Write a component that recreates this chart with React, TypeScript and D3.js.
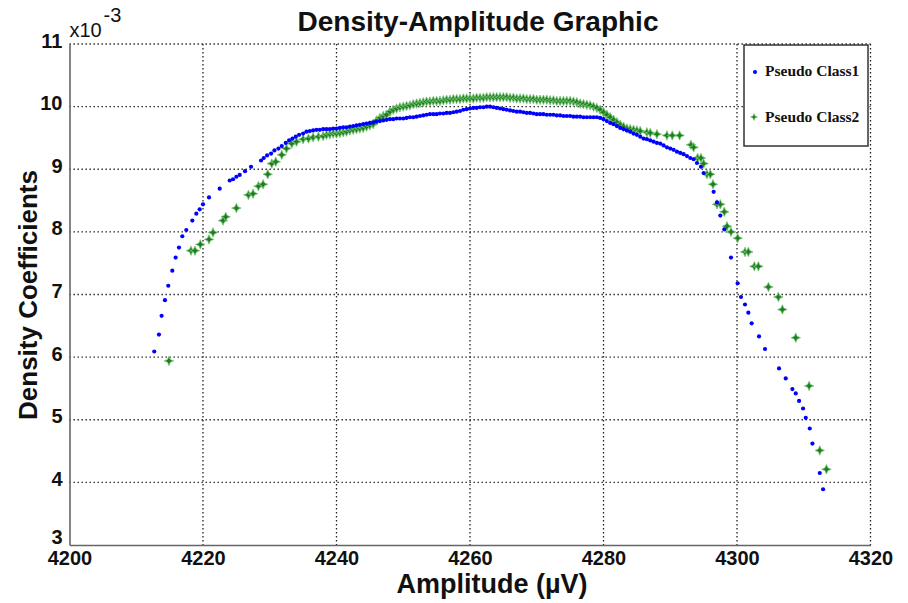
import React, { useEffect, useRef } from 'react';
import * as d3 from 'd3';

// amplitude (µV) and density (x10^-3)
const class1Amplitude = [
  4212.7, 4213.4, 4213.8, 4214.3, 4214.8, 4215.4, 4215.9, 4216.4, 4216.9, 4217.5,
  4218.4, 4219.0, 4219.5, 4220.0, 4220.9, 4222.5, 4224.0, 4224.5, 4225.0, 4225.5,
  4226.3, 4227.2, 4228.7, 4229.1, 4229.6, 4230.2, 4230.7, 4231.3, 4231.8, 4232.4,
  4232.9, 4233.4, 4233.9, 4234.4, 4235.0, 4235.5, 4236.0, 4236.5, 4237.0, 4237.5,
  4238.0, 4238.5, 4239.0, 4239.5, 4240.0, 4240.5, 4241.0, 4241.5, 4242.0, 4242.5,
  4243.0, 4243.5, 4244.0, 4244.5, 4245.0, 4245.5, 4246.0, 4246.5, 4247.0, 4247.5,
  4248.0, 4248.5, 4249.0, 4249.5, 4250.0, 4250.5, 4251.0, 4251.5, 4252.0, 4252.5,
  4253.0, 4253.5, 4254.0, 4254.5, 4255.0, 4255.5, 4256.0, 4256.5, 4257.0, 4257.5,
  4258.0, 4258.5, 4259.0, 4259.5, 4260.0, 4260.5, 4261.0, 4261.5, 4262.0, 4262.5,
  4263.0, 4263.5, 4264.0, 4264.5, 4265.0, 4265.5, 4266.0, 4266.5, 4267.0, 4267.5,
  4268.0, 4268.5, 4269.0, 4269.5, 4270.0, 4270.5, 4271.0, 4271.5, 4272.0, 4272.5,
  4273.0, 4273.5, 4274.0, 4274.5, 4275.0, 4275.5, 4276.0, 4276.5, 4277.0, 4277.5,
  4278.0, 4278.5, 4279.0, 4279.5, 4280.0, 4280.5, 4281.0, 4281.5, 4282.0, 4282.5,
  4283.0, 4283.5, 4284.0, 4284.5, 4285.0, 4285.5, 4286.0, 4286.5, 4287.0, 4287.5,
  4288.0, 4288.5, 4289.0, 4289.5, 4290.0, 4290.5, 4291.0, 4291.5, 4292.0, 4292.5,
  4293.0, 4293.5, 4294.0, 4294.6, 4295.0, 4296.5, 4297.0, 4297.5, 4298.1, 4299.1,
  4300.1, 4300.6, 4301.2, 4301.7, 4302.2, 4303.3, 4304.2, 4306.3, 4307.3, 4308.3,
  4308.8, 4309.3, 4309.9, 4310.3, 4310.9, 4311.3, 4312.4, 4312.9,
];
const class1Density = [
  6.09, 6.36, 6.66, 6.91, 7.14, 7.38, 7.59, 7.75, 7.93, 8.03,
  8.18, 8.29, 8.36, 8.44, 8.55, 8.69, 8.82, 8.84, 8.88, 8.91,
  8.97, 9.04, 9.14, 9.18, 9.22, 9.25, 9.30, 9.33, 9.37, 9.42,
  9.46, 9.49, 9.52, 9.55, 9.57, 9.60, 9.61, 9.62, 9.63, 9.63,
  9.64, 9.64, 9.64, 9.65, 9.65, 9.66, 9.67, 9.67, 9.68, 9.69,
  9.70, 9.71, 9.72, 9.73, 9.74, 9.75, 9.76, 9.77, 9.78, 9.79,
  9.80, 9.80, 9.81, 9.81, 9.81, 9.82, 9.83, 9.83, 9.84, 9.85,
  9.86, 9.87, 9.88, 9.88, 9.88, 9.89, 9.89, 9.90, 9.90, 9.91,
  9.92, 9.93, 9.95, 9.96, 9.97, 9.98, 9.98, 9.99, 9.99, 10.0,
  10.0, 9.99, 9.98, 9.97, 9.96, 9.95, 9.94, 9.93, 9.92, 9.92,
  9.91, 9.90, 9.90, 9.89, 9.88, 9.88, 9.88, 9.87, 9.87, 9.87,
  9.86, 9.86, 9.85, 9.85, 9.85, 9.84, 9.84, 9.84, 9.83, 9.83,
  9.83, 9.83, 9.83, 9.82, 9.80, 9.77, 9.74, 9.72, 9.69, 9.66,
  9.64, 9.62, 9.60, 9.57, 9.55, 9.52, 9.49, 9.48, 9.46, 9.44,
  9.42, 9.41, 9.38, 9.35, 9.33, 9.31, 9.28, 9.26, 9.24, 9.21,
  9.18, 9.16, 9.10, 9.04, 8.94, 8.64, 8.47, 8.26, 8.04, 7.59,
  7.18, 6.96, 6.84, 6.71, 6.54, 6.33, 6.13, 5.82, 5.66, 5.49,
  5.42, 5.30, 5.18, 5.03, 4.86, 4.62, 4.15, 3.89,
];

const class2Amplitude = [
  4214.9, 4218.2, 4218.8, 4219.6, 4220.9, 4221.5, 4223.0, 4223.4, 4225.0, 4226.8,
  4227.5, 4228.3, 4229.0, 4229.7, 4230.3, 4230.9, 4231.8, 4232.5, 4233.3, 4234.0,
  4235.0, 4235.8, 4236.5, 4237.3, 4238.0, 4238.5, 4239.0, 4239.5, 4240.0, 4240.5,
  4241.0, 4241.5, 4242.0, 4242.5, 4243.0, 4243.5, 4244.0, 4244.5, 4245.0, 4245.5,
  4246.0, 4246.5, 4247.0, 4247.5, 4248.0, 4248.5, 4249.0, 4249.5, 4250.0, 4250.5,
  4251.0, 4251.5, 4252.0, 4252.5, 4253.0, 4253.5, 4254.0, 4254.5, 4255.0, 4255.5,
  4256.0, 4256.5, 4257.0, 4257.5, 4258.0, 4258.5, 4259.0, 4259.5, 4260.0, 4260.5,
  4261.0, 4261.5, 4262.0, 4262.5, 4263.0, 4263.5, 4264.0, 4264.5, 4265.0, 4265.5,
  4266.0, 4266.5, 4267.0, 4267.5, 4268.0, 4268.5, 4269.0, 4269.5, 4270.0, 4270.5,
  4271.0, 4271.5, 4272.0, 4272.5, 4273.0, 4273.5, 4274.0, 4274.5, 4275.0, 4275.5,
  4276.0, 4276.5, 4277.0, 4277.5, 4278.0, 4278.5, 4279.0, 4279.5, 4280.0, 4280.5,
  4281.0, 4281.5, 4282.0, 4282.5, 4283.0, 4283.5, 4284.0, 4284.5, 4285.0, 4285.5,
  4286.5, 4287.0, 4288.0, 4289.5, 4290.3, 4291.4, 4293.1, 4293.5, 4294.1, 4294.6,
  4295.0, 4295.5, 4296.0, 4296.4, 4297.0, 4297.5, 4298.1, 4298.5, 4299.1, 4300.1,
  4301.2, 4301.7, 4302.6, 4303.2, 4304.7, 4306.2, 4306.8, 4308.8, 4310.8, 4312.4,
  4313.4,
];
const class2Density = [
  5.94, 7.70, 7.70, 7.80, 7.88, 7.99, 8.18, 8.24, 8.38, 8.59,
  8.61, 8.73, 8.76, 8.92, 9.09, 9.12, 9.23, 9.33, 9.41, 9.44,
  9.48, 9.49, 9.51, 9.52, 9.53, 9.55, 9.56, 9.57, 9.57, 9.58,
  9.59, 9.60, 9.62, 9.63, 9.64, 9.65, 9.66, 9.68, 9.70, 9.72,
  9.78, 9.82, 9.85, 9.87, 9.92, 9.95, 9.97, 9.99, 10.0, 10.01,
  10.02, 10.04, 10.05, 10.06, 10.07, 10.08, 10.08, 10.09, 10.09, 10.09,
  10.10, 10.11, 10.11, 10.12, 10.12, 10.12, 10.13, 10.13, 10.13, 10.13,
  10.14, 10.14, 10.14, 10.15, 10.15, 10.15, 10.15, 10.15, 10.15, 10.15,
  10.14, 10.14, 10.13, 10.13, 10.13, 10.12, 10.12, 10.12, 10.11, 10.11,
  10.11, 10.11, 10.10, 10.10, 10.09, 10.09, 10.09, 10.09, 10.09, 10.08,
  10.07, 10.05, 10.04, 10.03, 10.02, 10.0, 9.98, 9.95, 9.91, 9.87,
  9.83, 9.79, 9.75, 9.71, 9.68, 9.65, 9.64, 9.63, 9.62, 9.61,
  9.59, 9.58, 9.56, 9.54, 9.54, 9.54, 9.39, 9.35, 9.18, 9.18,
  9.09, 8.92, 8.92, 8.76, 8.44, 8.44, 8.32, 8.09, 8.00, 7.90,
  7.68, 7.68, 7.45, 7.45, 7.12, 6.96, 6.76, 6.31, 5.54, 4.51,
  4.21,
];

const xTicks = [4200, 4220, 4240, 4260, 4280, 4300, 4320];
const yTicks = [3, 4, 5, 6, 7, 8, 9, 10, 11];
const seriesNames = ['Pseudo Class1', 'Pseudo Class2'];

const W = 908;
const H = 603;
const plot = { left: 69.5, right: 870.5, top: 44, bottom: 545 };
const labelFont = "'Liberation Sans', Arial, sans-serif";
const legendFont = "'Liberation Serif', 'Times New Roman', serif";

// four-pointed star like MATLAB's marker in the picture
const sparkle = {
  draw(ctx: any, size: number) {
    const r = Math.sqrt(size) / 2;
    const k = r * 0.3;
    ctx.moveTo(0, -r);
    ctx.lineTo(k, -k);
    ctx.lineTo(r, 0);
    ctx.lineTo(k, k);
    ctx.lineTo(0, r);
    ctx.lineTo(-k, k);
    ctx.lineTo(-r, 0);
    ctx.lineTo(-k, -k);
    ctx.closePath();
  },
};

const App = () => {
  const xAxisRef = useRef<SVGGElement>(null);
  const yAxisRef = useRef<SVGGElement>(null);

  const x = d3.scaleLinear().domain([4200, 4320]).range([plot.left, plot.right]);
  const y = d3.scaleLinear().domain([3, 11]).range([plot.bottom, plot.top]);

  const starPath = d3.symbol().type(sparkle as any).size(90)() as string;
  const legendStar = d3.symbol().type(sparkle as any).size(50)() as string;

  const class1 = class1Amplitude.map((a, i) => ({ a, d: class1Density[i] }));
  const class2 = class2Amplitude.map((a, i) => ({ a, d: class2Density[i] }));

  useEffect(() => {
    const xAxis = d3.axisBottom(x).tickValues(xTicks).tickSize(0).tickPadding(6).tickFormat(d3.format('d'));
    const yAxis = d3.axisLeft(y).tickValues(yTicks).tickSize(0).tickPadding(7).tickFormat(d3.format('d'));
    const gx = d3.select(xAxisRef.current).call(xAxis as any);
    const gy = d3.select(yAxisRef.current).call(yAxis as any);
    [gx, gy].forEach(g => {
      g.select('.domain').attr('stroke', '#666').attr('stroke-width', 1.6);
      g.selectAll('text')
        .attr('font-family', labelFont)
        .attr('font-weight', 'bold')
        .attr('font-size', 20)
        .attr('fill', '#111');
    });
    // MATLAB lifts the labels a little above their grid line
    gy.selectAll('text').attr('dy', (d: any) => (d === 3 ? '-0.1em' : '0.15em'));
  }, []);

  return (
    <svg width={W} height={H} style={{ position: 'absolute', left: 0, top: 0, background: '#fff' }}>
      <rect width={W} height={H} fill="#fff" />

      {/* dotted grid */}
      <g stroke="#222" strokeWidth={1.3} strokeDasharray="1.4 2.6">
        {xTicks.slice(1).map(t => (
          <line key={'gx' + t} x1={x(t)} x2={x(t)} y1={plot.top} y2={plot.bottom} />
        ))}
        {yTicks.slice(1).map(t => (
          <line key={'gy' + t} x1={plot.left} x2={plot.right} y1={y(t)} y2={y(t)} />
        ))}
      </g>

      <g ref={xAxisRef} transform={`translate(0, ${plot.bottom})`} />
      <g ref={yAxisRef} transform={`translate(${plot.left}, 0)`} />

      {/* Pseudo Class2 */}
      <g>
        {class2.map((p, i) => (
          <path key={'c2' + i} d={starPath} transform={`translate(${x(p.a)}, ${y(p.d)})`}
            fill="#1f7f1f" stroke="#7cc97c" strokeWidth={0.8} />
        ))}
      </g>
      {/* Pseudo Class1 */}
      <g>
        {class1.map((p, i) => (
          <circle key={'c1' + i} cx={x(p.a)} cy={y(p.d)} r={2.1} fill="#0000ff" />
        ))}
      </g>

      {/* exponent */}
      <text x={plot.left} y={37} fontFamily={labelFont} fontSize={20} fill="#111">x10</text>
      <text x={plot.left + 34} y={22} fontFamily={labelFont} fontSize={20} fill="#111">-3</text>

      {/* title & axis labels */}
      <text x={478} y={31} textAnchor="middle" fontFamily={labelFont} fontWeight="bold" fontSize={28} fill="#111">
        Density-Amplitude Graphic
      </text>
      <text x={492} y={593} textAnchor="middle" fontFamily={labelFont} fontWeight="bold" fontSize={27} fill="#111">
        Amplitude (µV)
      </text>
      <text transform={`translate(37, ${295}) rotate(-90)`} textAnchor="middle" fontFamily={labelFont}
        fontWeight="bold" fontSize={26} fill="#111">
        Density Coefficients
      </text>

      {/* legend */}
      <g transform="translate(744, 45)">
        <rect width={124} height={101} fill="#fff" stroke="#333" strokeWidth={1.5} />
        <circle cx={11} cy={27} r={2} fill="#0000ff" />
        <text x={21} y={31} fontFamily={legendFont} fontWeight="bold" fontSize={15.5} fill="#111">
          {seriesNames[0]}
        </text>
        <path d={legendStar} transform="translate(10, 72)" fill="#1f7f1f" stroke="#7cc97c" strokeWidth={0.6} />
        <text x={21} y={77} fontFamily={legendFont} fontWeight="bold" fontSize={15.5} fill="#111">
          {seriesNames[1]}
        </text>
      </g>
    </svg>
  );
};

export default App;
